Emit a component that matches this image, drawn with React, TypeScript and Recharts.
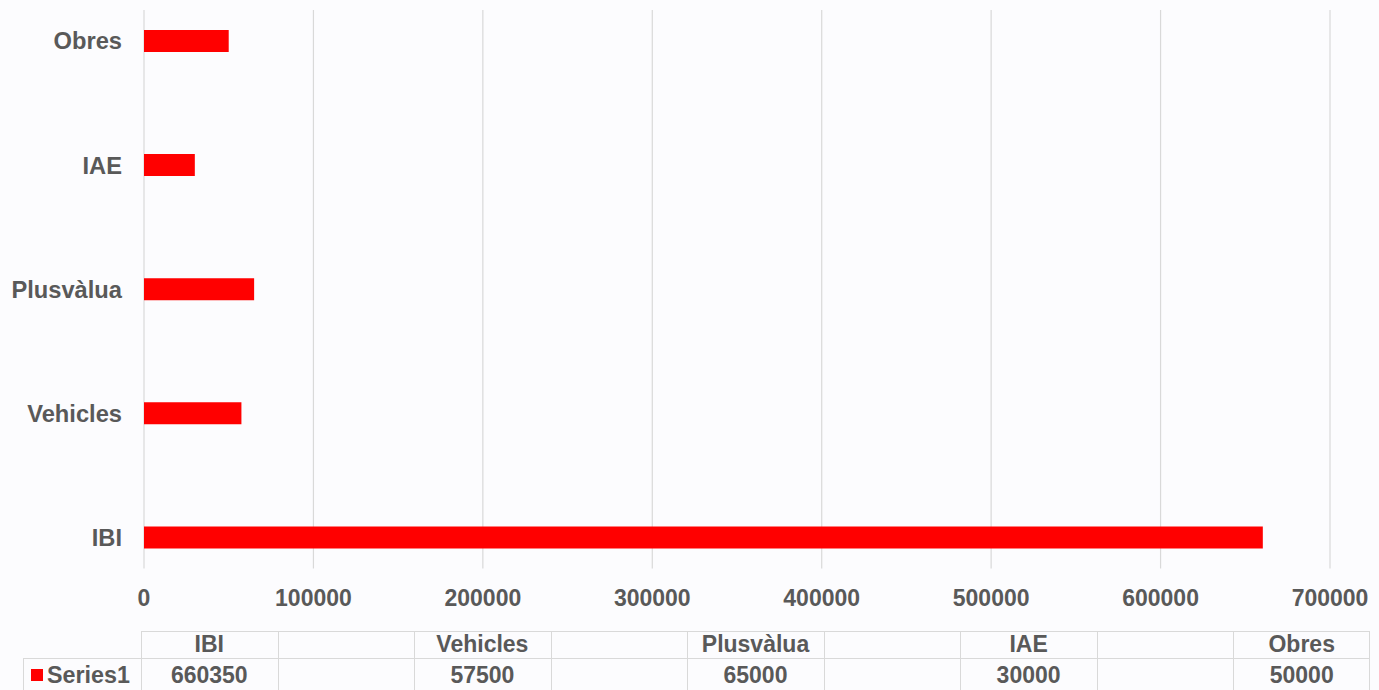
import React from "react";
import { BarChart, Bar, XAxis, YAxis, CartesianGrid } from "recharts";

const categories = ["IBI", "", "Vehicles", "", "Plusvàlua", "", "IAE", "", "Obres"];
const values: (number | null)[] = [660350, null, 57500, null, 65000, null, 30000, null, 50000];
const xTicks = [0, 100000, 200000, 300000, 400000, 500000, 600000, 700000];
const seriesName = "Series1";

const data = categories.map((c, i) => ({ key: `c${i}`, name: c, value: values[i] }));

const FONT = '"Liberation Sans", Arial, sans-serif';
const TEXT = "#595959";
const GRID = "#d9d9d9";
const BG = "#fcfcfe";
const RED = "#ff0000";

const W = 1379;
const H = 690;

// table geometry
const tableLeft = 141;
const tableRight = 1370;
const colW = (tableRight - tableLeft) / categories.length;
const row1Top = 631;
const row2Top = 658;
const row2Bottom = 692;
const labelLeft = 23;

export default function App() {
  return (
    <div
      style={{
        position: "relative",
        width: W,
        height: H,
        overflow: "hidden",
        background: BG,
        fontFamily: FONT,
      }}
    >
      <style>{"body{margin:0;overflow:hidden;}"}</style>
      <BarChart
        width={W}
        height={620}
        data={data}
        layout="vertical"
        margin={{ top: 10, right: 49, bottom: 11.5, left: 0 }}
        barCategoryGap={0}
      >
        <CartesianGrid horizontal={false} stroke={GRID} strokeWidth={1.2} />
        <XAxis
          type="number"
          domain={[0, 700000]}
          ticks={xTicks}
          interval={0}
          axisLine={false}
          tickLine={false}
          tickSize={0}
          tickMargin={21}
          height={40}
          tick={{ fill: TEXT, fontSize: 23, fontWeight: 700, fontFamily: FONT }}
        />
        <YAxis
          type="category"
          dataKey="key"
          reversed
          width={144}
          interval={0}
          axisLine={false}
          tickLine={false}
          tickSize={0}
          tickMargin={22}
          tickFormatter={(k: string) => {
            const idx = data.findIndex((d) => d.key === k);
            return idx >= 0 ? data[idx].name : "";
          }}
          tick={{ fill: TEXT, fontSize: 23.7, fontWeight: 700, fontFamily: FONT }}
        />
        <Bar dataKey="value" fill={RED} barSize={22} isAnimationActive={false} />
      </BarChart>

      {/* data table */}
      <div
        style={{
          position: "absolute",
          left: tableLeft,
          top: row1Top,
          width: tableRight - tableLeft,
          height: row2Top - row1Top,
          borderTop: `1px solid ${GRID}`,
          borderRight: `1px solid ${GRID}`,
          boxSizing: "border-box",
        }}
      />
      <div
        style={{
          position: "absolute",
          left: labelLeft,
          top: row2Top,
          width: tableRight - labelLeft,
          height: row2Bottom - row2Top,
          borderTop: `1px solid ${GRID}`,
          borderLeft: `1px solid ${GRID}`,
          borderRight: `1px solid ${GRID}`,
          boxSizing: "border-box",
        }}
      />
      {categories.map((c, i) => (
        <div
          key={`vl${i}`}
          style={{
            position: "absolute",
            left: tableLeft + i * colW,
            top: row1Top,
            width: 1,
            height: row2Bottom - row1Top,
            background: GRID,
          }}
        />
      ))}
      {categories.map((c, i) => (
        <div
          key={`h${i}`}
          style={{
            position: "absolute",
            left: tableLeft + i * colW,
            top: row1Top,
            width: colW,
            height: row2Top - row1Top,
            lineHeight: `${row2Top - row1Top}px`,
            textAlign: "center",
            color: TEXT,
            fontSize: 23,
            fontWeight: 700,
          }}
        >
          {c}
        </div>
      ))}
      {values.map((v, i) => (
        <div
          key={`v${i}`}
          style={{
            position: "absolute",
            left: tableLeft + i * colW,
            top: row2Top + 1,
            width: colW,
            height: 32,
            lineHeight: "32px",
            textAlign: "center",
            color: TEXT,
            fontSize: 23,
            fontWeight: 700,
          }}
        >
          {v === null ? "" : String(v)}
        </div>
      ))}
      <div
        style={{
          position: "absolute",
          left: 31,
          top: 669,
          width: 12,
          height: 12,
          background: RED,
        }}
      />
      <div
        style={{
          position: "absolute",
          left: 47,
          top: row2Top + 1,
          height: 32,
          lineHeight: "32px",
          color: TEXT,
          fontSize: 23.3,
          fontWeight: 700,
          whiteSpace: "nowrap",
        }}
      >
        {seriesName}
      </div>
    </div>
  );
}
